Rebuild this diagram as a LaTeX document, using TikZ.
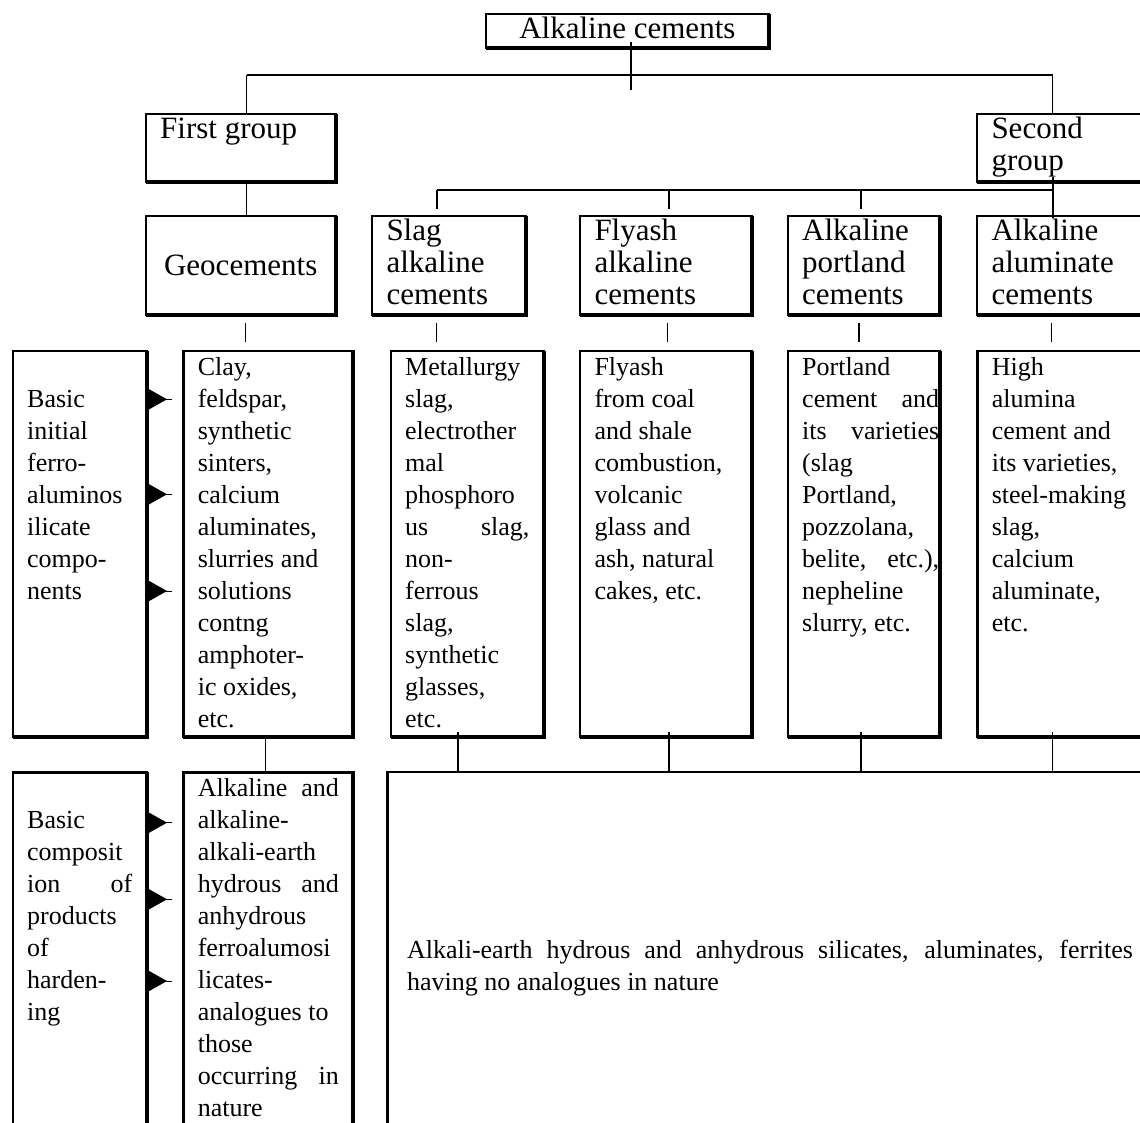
\documentclass[tikz,border=0pt]{standalone}
\usepackage{fontspec}
\setmainfont{Liberation Serif}
\usetikzlibrary{arrows.meta}
\usetikzlibrary{calc}
\usetikzlibrary{positioning}

\newcommand{\cell}[3]{\parbox[t][#2][t]{#1}{\strut #3}}
\newcommand{\jl}[2][\linewidth]{\makebox[#1][s]{#2}}

\begin{document}
\begin{tikzpicture}[
    x=1pt, y=-1pt,
    line width=1.3pt
]
\tikzset{
    boxbase/.style = {draw, line width=2.4pt, anchor=north west, outer sep=0pt, inner xsep=14.5pt, inner ysep=2pt},
    headbox/.style = {boxbase, font=\fontsize{31}{32}\selectfont},
    cellbox/.style = {boxbase, font=\fontsize{26}{32}\selectfont},
    shadowedge/.style = {line width=4pt, line join=miter},
    wire/.style = {line width=1.3pt},
    pointer/.style = {line width=1pt, -{Triangle[length=18pt,width=20pt]}}
}
\clip (0,0) rectangle (1140,1122);
\fill[white] (0,0) rectangle (1140,1122);

% headings
\node[headbox, inner sep=0pt, minimum width=283.3pt, minimum height=34pt, text height=22pt, text depth=7pt] at (485.7,14) (title) {Alkaline cements};
\node[headbox] at (145.7,114) (first) {\cell{161pt}{64pt}{First group}};
\node[headbox] at (977,114) (second) {\cell{171pt}{64pt}{Second\\group}};
\node[headbox, minimum width=190pt, minimum height=99pt] at (145.7,216) (geo) {Geocements};
\node[headbox] at (372,216) (slaghead) {\cell{125pt}{95pt}{Slag\\alkaline\\cements}};
\node[headbox] at (580,216) (flyhead) {\cell{143pt}{95pt}{Flyash\\alkaline\\cements}};
\node[headbox] at (787.7,216) (porthead) {\cell{123.3pt}{95pt}{Alkaline\\portland\\cements}};
\node[headbox] at (977,216) (aluhead) {\cell{171pt}{95pt}{Alkaline\\aluminate\\cements}};

% initial components
\node[cellbox] at (12.7,350.7) (basic) {\cell{105pt}{382.5pt}{\\Basic\\initial\\ferro-\\aluminos\\ilicate\\compo-\\nents}};
\node[cellbox] at (183.3,350.7) (clay) {\cell{141pt}{382.5pt}{Clay,\\feldspar,\\synthetic\\sinters,\\calcium\\aluminates,\\slurries and\\solutions\\contng\\amphoter-\\ic oxides,\\etc.}};
\node[cellbox] at (390.7,350.7) (slag) {\cell{124.3pt}{382.5pt}{Metallurgy\\slag,\\electrother\\mal\\phosphoro\\\jl{us slag,}\\non-\\ferrous\\slag,\\synthetic\\glasses,\\etc.}};
\node[cellbox] at (580,350.7) (fly) {\cell{142.7pt}{382.5pt}{Flyash\\from coal\\and shale\\combustion,\\volcanic\\glass and\\ash, natural\\cakes, etc.}};
\node[cellbox] at (787.7,350.7) (port) {\cell{123.3pt}{382.5pt}{Portland\\\jl[137pt]{cement and}\\\jl[137pt]{its varieties}\\(slag\\Portland,\\pozzolana,\\\jl[137pt]{belite, etc.),}\\nepheline\\slurry, etc.}};
\node[cellbox] at (977.3,350.7) (alu) {\cell{171pt}{382.5pt}{High\\alumina\\cement and\\its varieties,\\steel-making\\slag,\\calcium\\aluminate,\\etc.}};

% products of hardening
\node[cellbox] at (12.7,772.3) (basic2) {\cell{105pt}{396pt}{\\Basic\\composit\\\jl{ion of}\\products\\of\\harden-\\ing}};
\node[cellbox] at (183.3,772.3) (alk2) {\cell{141pt}{396pt}{\jl{Alkaline and}\\alkaline-\\alkali-earth\\\jl{hydrous and}\\anhydrous\\ferroalumosi\\licates-\\analogues to\\those\\\jl{occurring in}\\nature}};
\node[cellbox, inner xsep=19.7pt, text width=726pt, align=justify, minimum height=392pt] at (387.3,771.7) (big) {Alkali-earth hydrous and anhydrous silicates, aluminates, ferrites\linebreak having no analogues in nature};

\foreach \n in {title,first,second,geo,slaghead,flyhead,porthead,aluhead,basic,clay,slag,fly,port,alu,basic2,alk2}
    \draw[shadowedge] (\n.north east) -- (\n.south east) -- (\n.south west);

% connectors
\coordinate (busL) at (246.5,75);
\coordinate (busR) at (1052.5,75);
\coordinate (bus2L) at (437,190);
\coordinate (bus2R) at (1053,190);
\draw[wire] ($(title.south)+(3.7,-6)$) -- ($(title.south)+(3.7,42)$);
\draw[wire] (busL) -- (busR);
\draw[wire] (busL) -- (busL |- first.north);
\draw[wire] (busR) -- (busR |- second.north);
\draw[wire] (busL |- first.south) -- (busL |- geo.north);
\draw[wire] (bus2L) -- (bus2R);
\draw[wire] ($(bus2R |- second.south)+(0,-5)$) -- ($(bus2R |- aluhead.north)+(0,2)$);
\foreach \n/\dx in {slaghead/-12,flyhead/3,porthead/-2.85}
    \draw[wire] ($(\n.north)+(\dx,-26)$) -- ($(\n.north)+(\dx,-7)$);
\foreach \n/\dx in {geo/5,slaghead/-12.3,flyhead/1.7,porthead/-4.8,aluhead/-25.3}
    \draw[wire] ($(\n.south)+(\dx,8)$) -- ++(0,19);
\draw[wire] ($(clay.south)+(-2.6,0)$) -- ($(alk2.north)+(-2.6,0)$);
\foreach \n/\dx in {slag/-9.35,fly/3.15,port/-2.85,alu/-24.8}
    \draw[wire] ($(\n.south)+(\dx,-5)$) -- ++(0,40);

% arrows
\foreach \dy in {48.6,143.6,240.3} {
    \draw[pointer] ($(basic.north east)+(2.3,\dy)$) -- ++(18,0);
    \draw[line width=1pt] ($(basic.north east)+(19,\dy)$) -- ++(6,0);
}
\foreach \dy in {50.4,127,208.7} {
    \draw[pointer] ($(basic2.north east)+(2.3,\dy)$) -- ++(18,0);
    \draw[line width=1pt] ($(basic2.north east)+(19,\dy)$) -- ++(6,0);
}
\end{tikzpicture}
\end{document}
